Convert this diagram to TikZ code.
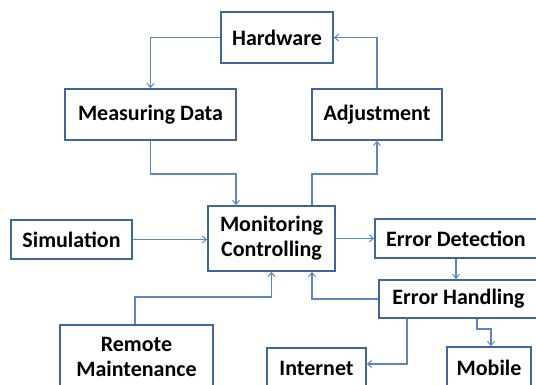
\documentclass[tikz,border=0pt]{standalone}
\usepackage{fontspec}
\setmainfont{Carlito}
\usetikzlibrary{arrows.meta}
\definecolor{boxcol}{HTML}{41679A}
\definecolor{arrcol}{HTML}{5B86C3}
\tikzset{
  box/.style={draw=boxcol, line width=1.8pt, fill=white, inner sep=0pt, align=center,
    font=\fontsize{22}{25}\selectfont\bfseries, text=black},
  arr/.style={draw=arrcol, line width=1.2pt, -{Straight Barb[length=4pt,width=7pt,line width=1pt]}},
  ln/.style={draw=arrcol, line width=1.2pt}
}
\begin{document}
\begin{tikzpicture}[x=1pt,y=-1pt]
\useasboundingbox (0,0) rectangle (536,385);
\clip (0,0) rectangle (536,385);
\node[box, minimum width=112pt, minimum height=51pt] (hw) at (277,37.5) {Hardware};
\node[box, minimum width=171pt, minimum height=51pt] (md) at (150.5,114.5) {Measuring Data};
\node[box, minimum width=130pt, minimum height=51pt] (adj) at (377,114.5) {Adjustment};
\node[box, minimum width=127pt, minimum height=65pt] (mon) at (271.5,238.5) {Monitoring\\Controlling};
\node[box, minimum width=121pt, minimum height=39pt] (sim) at (71.5,239.5) {Simulation};
\node[box, minimum width=162pt, minimum height=39pt] (ed) at (456,238.5) {Error Detection};
\node[box, minimum width=159pt, minimum height=38pt] (eh) at (458.5,299) {Error Handling};
\node[box, minimum width=153pt, minimum height=64pt] (rm) at (136.5,357) {Remote\\Maintenance};
\node[box, minimum width=99pt, minimum height=40pt] (in) at (316.5,368) {Internet};
\node[box, minimum width=84pt, minimum height=41pt] (mob) at (489,367.5) {Mobile};
\coordinate (j1) at (236,174);
\coordinate (j2) at (312,174);
\coordinate (j3) at (312,300);
\coordinate (j4) at (135,297);
\coordinate (j5) at (407,364);
\coordinate (j6) at (477,329);
\coordinate (j7) at (491,329);
\draw[arr] (hw.west) -| (md.north);
\draw[arr] (adj.north) |- (hw.east);
\draw[arr] (md.south) |- (j1) -- (j1 |- mon.north);
\draw[arr] (j2 |- mon.north) -- (j2) -| (adj.south);
\draw[arr] (sim.east) -- (sim.east -| mon.west);
\draw[arr] (ed.west -| mon.east) -- (ed.west);
\draw[arr] (ed.south) -- (ed.south |- eh.north);
\draw[arr] (eh.west) -| (j3 |- mon.south);
\draw[arr] (j4 |- rm.north) -- (j4) -| (mon.south);
\draw[arr] (j5 |- eh.south) -- (j5) -- (j5 -| in.east);
\draw[arr] (j6 |- eh.south) -- (j6) -- (j7) -- (j7 |- mob.north);
\end{tikzpicture}
\end{document}
